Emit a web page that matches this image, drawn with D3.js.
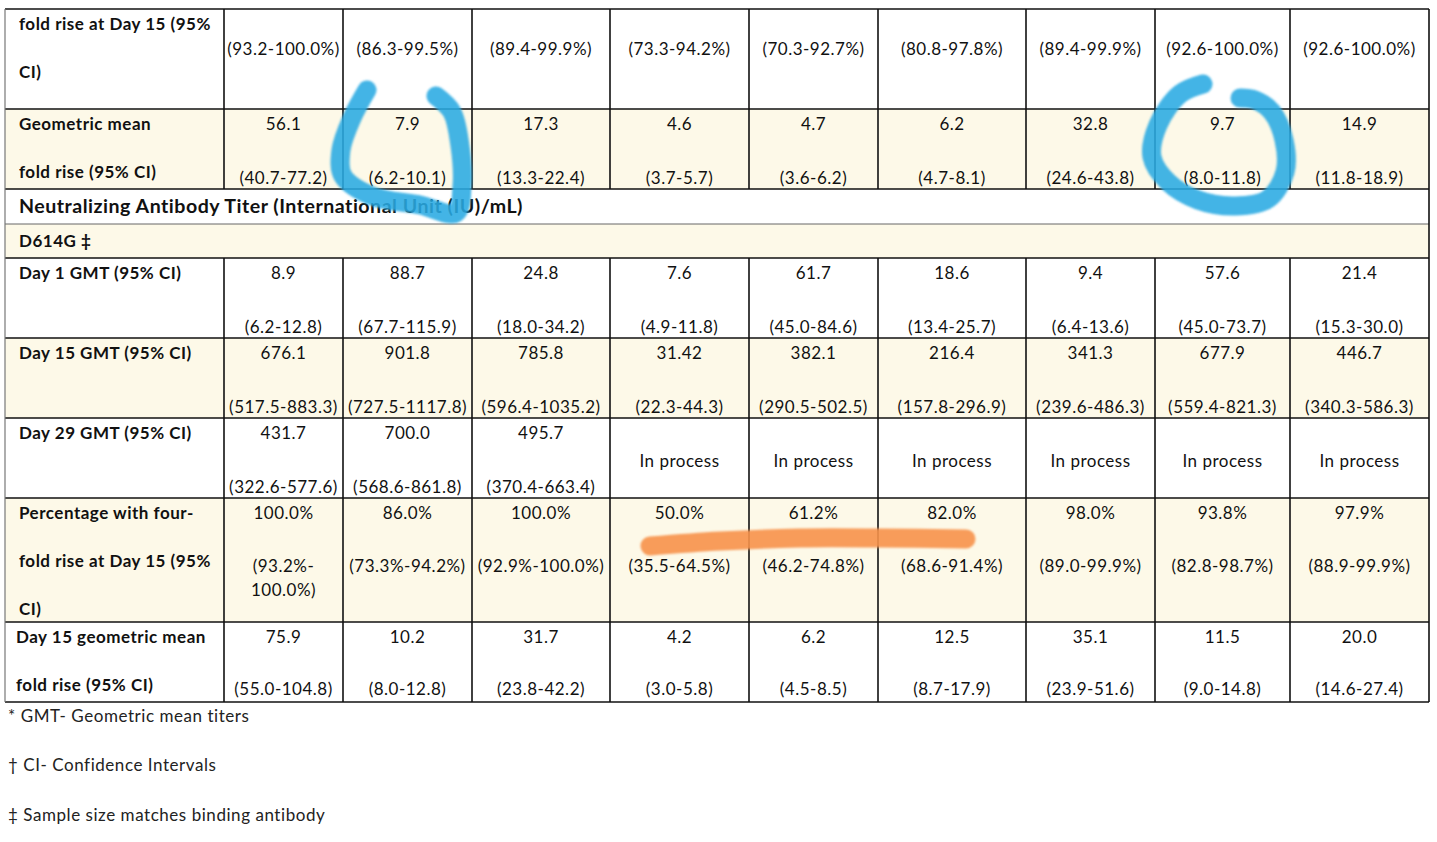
<!DOCTYPE html>
<html>
<head>
    <script src="https://d3js.org/d3.v7.min.js"></script>
    <style>
        body { margin: 0; background: #fff; }
    </style>
</head>
<body>
    <script>
        const row1CI = ['(93.2-100.0%)', '(86.3-99.5%)', '(89.4-99.9%)', '(73.3-94.2%)', '(70.3-92.7%)', '(80.8-97.8%)', '(89.4-99.9%)', '(92.6-100.0%)', '(92.6-100.0%)'];
        const gmfrValues = ['56.1', '7.9', '17.3', '4.6', '4.7', '6.2', '32.8', '9.7', '14.9'];
        const gmfrCI = ['(40.7-77.2)', '(6.2-10.1)', '(13.3-22.4)', '(3.7-5.7)', '(3.6-6.2)', '(4.7-8.1)', '(24.6-43.8)', '(8.0-11.8)', '(11.8-18.9)'];
        const day1GMT = ['8.9', '88.7', '24.8', '7.6', '61.7', '18.6', '9.4', '57.6', '21.4'];
        const day1CI = ['(6.2-12.8)', '(67.7-115.9)', '(18.0-34.2)', '(4.9-11.8)', '(45.0-84.6)', '(13.4-25.7)', '(6.4-13.6)', '(45.0-73.7)', '(15.3-30.0)'];
        const day15GMT = ['676.1', '901.8', '785.8', '31.42', '382.1', '216.4', '341.3', '677.9', '446.7'];
        const day15CI = ['(517.5-883.3)', '(727.5-1117.8)', '(596.4-1035.2)', '(22.3-44.3)', '(290.5-502.5)', '(157.8-296.9)', '(239.6-486.3)', '(559.4-821.3)', '(340.3-586.3)'];
        const day29GMT = ['431.7', '700.0', '495.7', '', '', '', '', '', ''];
        const day29CI = ['(322.6-577.6)', '(568.6-861.8)', '(370.4-663.4)', '', '', '', '', '', ''];
        const day29Mid = ['', '', '', 'In process', 'In process', 'In process', 'In process', 'In process', 'In process'];
        const pctFour = ['100.0%', '86.0%', '100.0%', '50.0%', '61.2%', '82.0%', '98.0%', '93.8%', '97.9%'];
        const pctCI = [['(93.2%-', '100.0%)'], ['(73.3%-94.2%)'], ['(92.9%-100.0%)'], ['(35.5-64.5%)'], ['(46.2-74.8%)'], ['(68.6-91.4%)'], ['(89.0-99.9%)'], ['(82.8-98.7%)'], ['(88.9-99.9%)']];
        const day15GMFR = ['75.9', '10.2', '31.7', '4.2', '6.2', '12.5', '35.1', '11.5', '20.0'];
        const day15GMFRCI = ['(55.0-104.8)', '(8.0-12.8)', '(23.8-42.2)', '(3.0-5.8)', '(4.5-8.5)', '(8.7-17.9)', '(23.9-51.6)', '(9.0-14.8)', '(14.6-27.4)'];

        const rowLabels = [
            ['fold rise at Day 15 (95%', 'CI)'],
            ['Geometric mean', 'fold rise (95% CI)'],
            ['Neutralizing Antibody Titer (International Unit (IU)/mL)'],
            ['D614G \u2021'],
            ['Day 1 GMT (95% CI)'],
            ['Day 15 GMT (95% CI)'],
            ['Day 29 GMT (95% CI)'],
            ['Percentage with four-', 'fold rise at Day 15 (95%', 'CI)'],
            ['Day 15 geometric mean', 'fold rise (95% CI)']
        ];
        const footnotes = ['* GMT- Geometric mean titers', '\u2020 CI- Confidence Intervals', '\u2021 Sample size matches binding antibody'];

        // hand-drawn highlight strokes, in page pixels
        const blueStroke1 = [[367, 90], [352, 118], [341, 150], [343, 176], [372, 196], [420, 205], [456, 213], [462, 186], [460, 146], [452, 112], [436, 96]];
        const blueStroke2 = [[1203, 84], [1180, 94], [1158, 125], [1152, 157], [1168, 182], [1198, 200], [1235, 206], [1268, 199], [1285, 172], [1284, 140], [1272, 112], [1255, 100], [1240, 98]];
        const orangeStroke = [[650, 546], [720, 541], [800, 538], [880, 538], [966, 539]];

        const width = 1437, height = 842;
        const colEdges = [5, 224, 343, 472, 610, 749, 878, 1026, 1155, 1290, 1429];
        const rowEdges = [9, 109, 189, 224, 258, 338, 418, 498, 622, 702];
        const beige = '#fdf9e8';
        const rowFill = ['#fff', beige, '#fff', beige, '#fff', beige, '#fff', beige, '#fff'];
        const font = 'Lato, "Open Sans", sans-serif';

        const x = d3.scaleOrdinal().domain(d3.range(colEdges.length)).range(colEdges);
        const y = d3.scaleOrdinal().domain(d3.range(rowEdges.length)).range(rowEdges);
        const cx = i => (x(i + 1) + x(i + 2)) / 2;

        const svg = d3.select('body').append('svg')
            .attr('width', width)
            .attr('height', height)
            .style('font-family', font);

        // row backgrounds
        svg.append('g').selectAll('rect')
            .data(rowFill)
            .join('rect')
            .attr('x', x(0))
            .attr('y', (d, i) => y(i))
            .attr('width', x(10) - x(0))
            .attr('height', (d, i) => y(i + 1) - y(i))
            .attr('fill', d => d);

        // grid lines
        const grid = svg.append('g').attr('stroke', '#111').attr('stroke-width', 1.6);
        const dataRows = [0, 1, 4, 5, 6, 7, 8];
        dataRows.forEach(r => {
            d3.range(1, 10).forEach(c => {
                grid.append('line')
                    .attr('x1', x(c)).attr('x2', x(c))
                    .attr('y1', y(r)).attr('y2', y(r + 1));
            });
        });
        rowEdges.forEach((v, i) => {
            grid.append('line')
                .attr('x1', x(0)).attr('x2', x(10))
                .attr('y1', v).attr('y2', v)
                .attr('stroke', i === 3 ? '#666' : '#111')
                .attr('stroke-width', i === 3 ? 1 : 1.6);
        });
        grid.append('line').attr('x1', x(0)).attr('x2', x(0)).attr('y1', y(0)).attr('y2', y(9))
            .attr('stroke', '#777').attr('stroke-width', 1.2);
        grid.append('line').attr('x1', x(10)).attr('x2', x(10)).attr('y1', y(0)).attr('y2', y(9));

        // row labels
        const labels = svg.append('g')
            .attr('font-weight', 'bold')
            .attr('font-size', 17)
            .attr('letter-spacing', 0.5)
            .attr('fill', '#111');
        rowLabels.forEach((lines, r) => {
            lines.forEach((t, k) => {
                let yy = y(r) + 15 + k * 48;
                if (r === 2) yy = (y(2) + y(3)) / 2;
                if (r === 3) yy = (y(3) + y(4)) / 2;
                labels.append('text')
                    .attr('x', r === 8 ? 16 : 19)
                    .attr('y', yy)
                    .attr('dy', '0.35em')
                    .attr('font-size', r === 2 ? 19.6 : null)
                    .text(t);
            });
        });

        // values
        const vals = svg.append('g')
            .attr('font-size', 17)
            .attr('letter-spacing', 0.5)
            .attr('fill', '#111')
            .attr('text-anchor', 'middle');
        function cellText(arr, yy) {
            arr.forEach((t, i) => {
                if (!t) return;
                vals.append('text')
                    .attr('x', cx(i))
                    .attr('y', yy)
                    .attr('dy', '0.35em')
                    .text(t);
            });
        }
        cellText(row1CI, y(0) + 40);
        cellText(gmfrValues, y(1) + 15);
        cellText(gmfrCI, y(2) - 11);
        cellText(day1GMT, y(4) + 15);
        cellText(day1CI, y(5) - 11);
        cellText(day15GMT, y(5) + 15);
        cellText(day15CI, y(6) - 11);
        cellText(day29GMT, y(6) + 15);
        cellText(day29CI, y(7) - 11);
        cellText(day29Mid, y(6) + 43);
        cellText(pctFour, y(7) + 15);
        pctCI.forEach((lines, i) => {
            lines.forEach((t, k) => {
                vals.append('text')
                    .attr('x', cx(i))
                    .attr('y', y(7) + 68 + k * 24)
                    .attr('dy', '0.35em')
                    .text(t);
            });
        });
        cellText(day15GMFR, y(8) + 15);
        cellText(day15GMFRCI, y(9) - 13);

        // footnotes
        svg.append('g').selectAll('text')
            .data(footnotes)
            .join('text')
            .attr('x', 8)
            .attr('y', (d, i) => 716 + i * 49.5)
            .attr('dy', '0.35em')
            .attr('font-size', 17)
            .attr('letter-spacing', 0.55)
            .attr('fill', '#222')
            .text(d => d);

        // highlighter marks
        const brush = d3.line().curve(d3.curveCatmullRom.alpha(0.5));
        const defs = svg.append('defs');
        defs.append('filter').attr('id', 'soft')
            .attr('filterUnits', 'userSpaceOnUse')
            .attr('x', 0).attr('y', 0).attr('width', width).attr('height', height)
            .append('feGaussianBlur').attr('stdDeviation', 0.8);

        [blueStroke1, blueStroke2].forEach(pts => {
            svg.append('path')
                .attr('d', brush(pts))
                .attr('fill', 'none')
                .attr('stroke', '#2aaae2')
                .attr('stroke-opacity', 0.88)
                .attr('stroke-width', 19)
                .attr('stroke-linecap', 'round')
                .attr('stroke-linejoin', 'round')
                .attr('filter', 'url(#soft)');
        });
        svg.append('path')
            .attr('d', brush(orangeStroke))
            .attr('fill', 'none')
            .attr('stroke', '#f7924a')
            .attr('stroke-opacity', 0.9)
            .attr('stroke-width', 19)
            .attr('stroke-linecap', 'round')
            .attr('filter', 'url(#soft)');
    </script>
</body>
</html>
